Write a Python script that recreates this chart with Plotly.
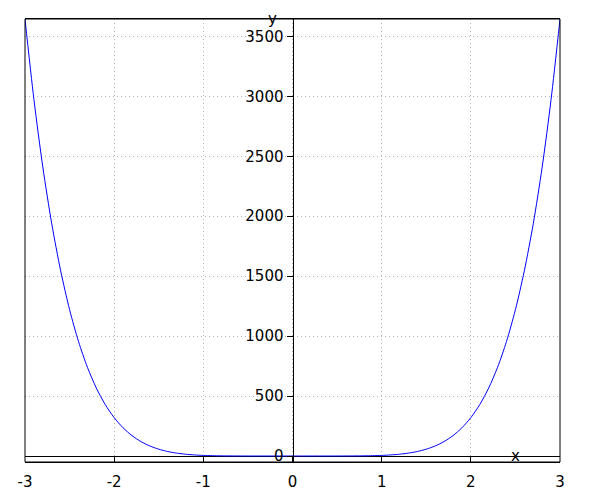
import plotly.graph_objects as go

# Sample points (symmetric, y grows steeply toward |x| = 3)
x_right = [0.0, 0.1, 0.2, 0.3, 0.4, 0.5, 0.6, 0.7, 0.8, 0.9, 1.0,
           1.1, 1.2, 1.3, 1.4, 1.5, 1.6, 1.7, 1.8, 1.9, 2.0,
           2.1, 2.2, 2.3, 2.4, 2.5, 2.6, 2.7, 2.8, 2.9, 3.0]
y_right = [0.0, 0.0, 0.0003, 0.0036, 0.0205, 0.078, 0.233, 0.588, 1.31, 2.66, 5.0,
           8.86, 14.93, 24.13, 37.65, 56.95, 83.89, 120.69, 170.06, 235.23, 320.0,
           428.83, 566.90, 740.18, 955.51, 1220.70, 1544.58, 1937.10, 2409.45, 2974.12, 3645.0]
x_left = [-3.0, -2.9, -2.8, -2.7, -2.6, -2.5, -2.4, -2.3, -2.2, -2.1, -2.0,
          -1.9, -1.8, -1.7, -1.6, -1.5, -1.4, -1.3, -1.2, -1.1, -1.0,
          -0.9, -0.8, -0.7, -0.6, -0.5, -0.4, -0.3, -0.2, -0.1]
y_left = [3645.0, 2974.12, 2409.45, 1937.10, 1544.58, 1220.70, 955.51, 740.18, 566.90, 428.83, 320.0,
          235.23, 170.06, 120.69, 83.89, 56.95, 37.65, 24.13, 14.93, 8.86, 5.0,
          2.66, 1.31, 0.588, 0.233, 0.078, 0.0205, 0.0036, 0.0003, 0.0]

x_vals = x_left + x_right
y_vals = y_left + y_right

x_ticks = [-3, -2, -1, 0, 1, 2, 3]
x_tick_labels = ["-3", "-2", "-1", "0", "1", "2", "3"]
y_ticks = [0, 500, 1000, 1500, 2000, 2500, 3000, 3500]
y_tick_labels = ["0", "500", "1000", "1500", "2000", "2500", "3000", "3500"]

FONT = "DejaVu Sans"
GRID = "#b4b4b4"

fig = go.Figure()
fig.add_trace(go.Scatter(x=x_vals, y=y_vals, mode="lines",
                         line=dict(color="blue", width=1, shape="spline", smoothing=0.8),
                         showlegend=False, hoverinfo="skip"))

fig.update_layout(
    width=592, height=492,
    margin=dict(l=17, r=40, t=11, b=38),
    paper_bgcolor="white", plot_bgcolor="white",
    font=dict(family=FONT, size=15, color="black"),
    xaxis=dict(range=[-3, 3], tickvals=x_ticks, ticktext=x_tick_labels,
               ticks="inside", ticklen=6, tickcolor="black",
               ticklabelstandoff=6,
               showline=True, linecolor="black", linewidth=1, mirror=True,
               showgrid=True, gridcolor=GRID, griddash="1px,3px", gridwidth=1,
               zeroline=False, automargin=False,
               fixedrange=True),
    yaxis=dict(range=[-50, 3645], tickvals=y_ticks, ticktext=y_tick_labels,
               anchor="free", position=0.5,
               ticks="outside", ticklen=6, tickcolor="black",
               showline=True, linecolor="black", linewidth=1,
               showgrid=True, gridcolor=GRID, griddash="1px,3px", gridwidth=1,
               zeroline=True, zerolinecolor="black", zerolinewidth=1,
               automargin=False, fixedrange=True),
    shapes=[dict(type="rect", xref="paper", yref="paper", x0=0, x1=1, y0=0, y1=1,
                 line=dict(color="black", width=1))],
    annotations=[
        dict(text="y", xref="x", yref="paper", x=-0.22, y=1.0, showarrow=False,
             font=dict(family=FONT, size=15), xanchor="center", yanchor="middle"),
        dict(text="x", xref="x", yref="y", x=2.5, y=0, showarrow=False,
             font=dict(family=FONT, size=15), xanchor="center", yanchor="middle"),
    ],
)

fig.write_html("out.html")
